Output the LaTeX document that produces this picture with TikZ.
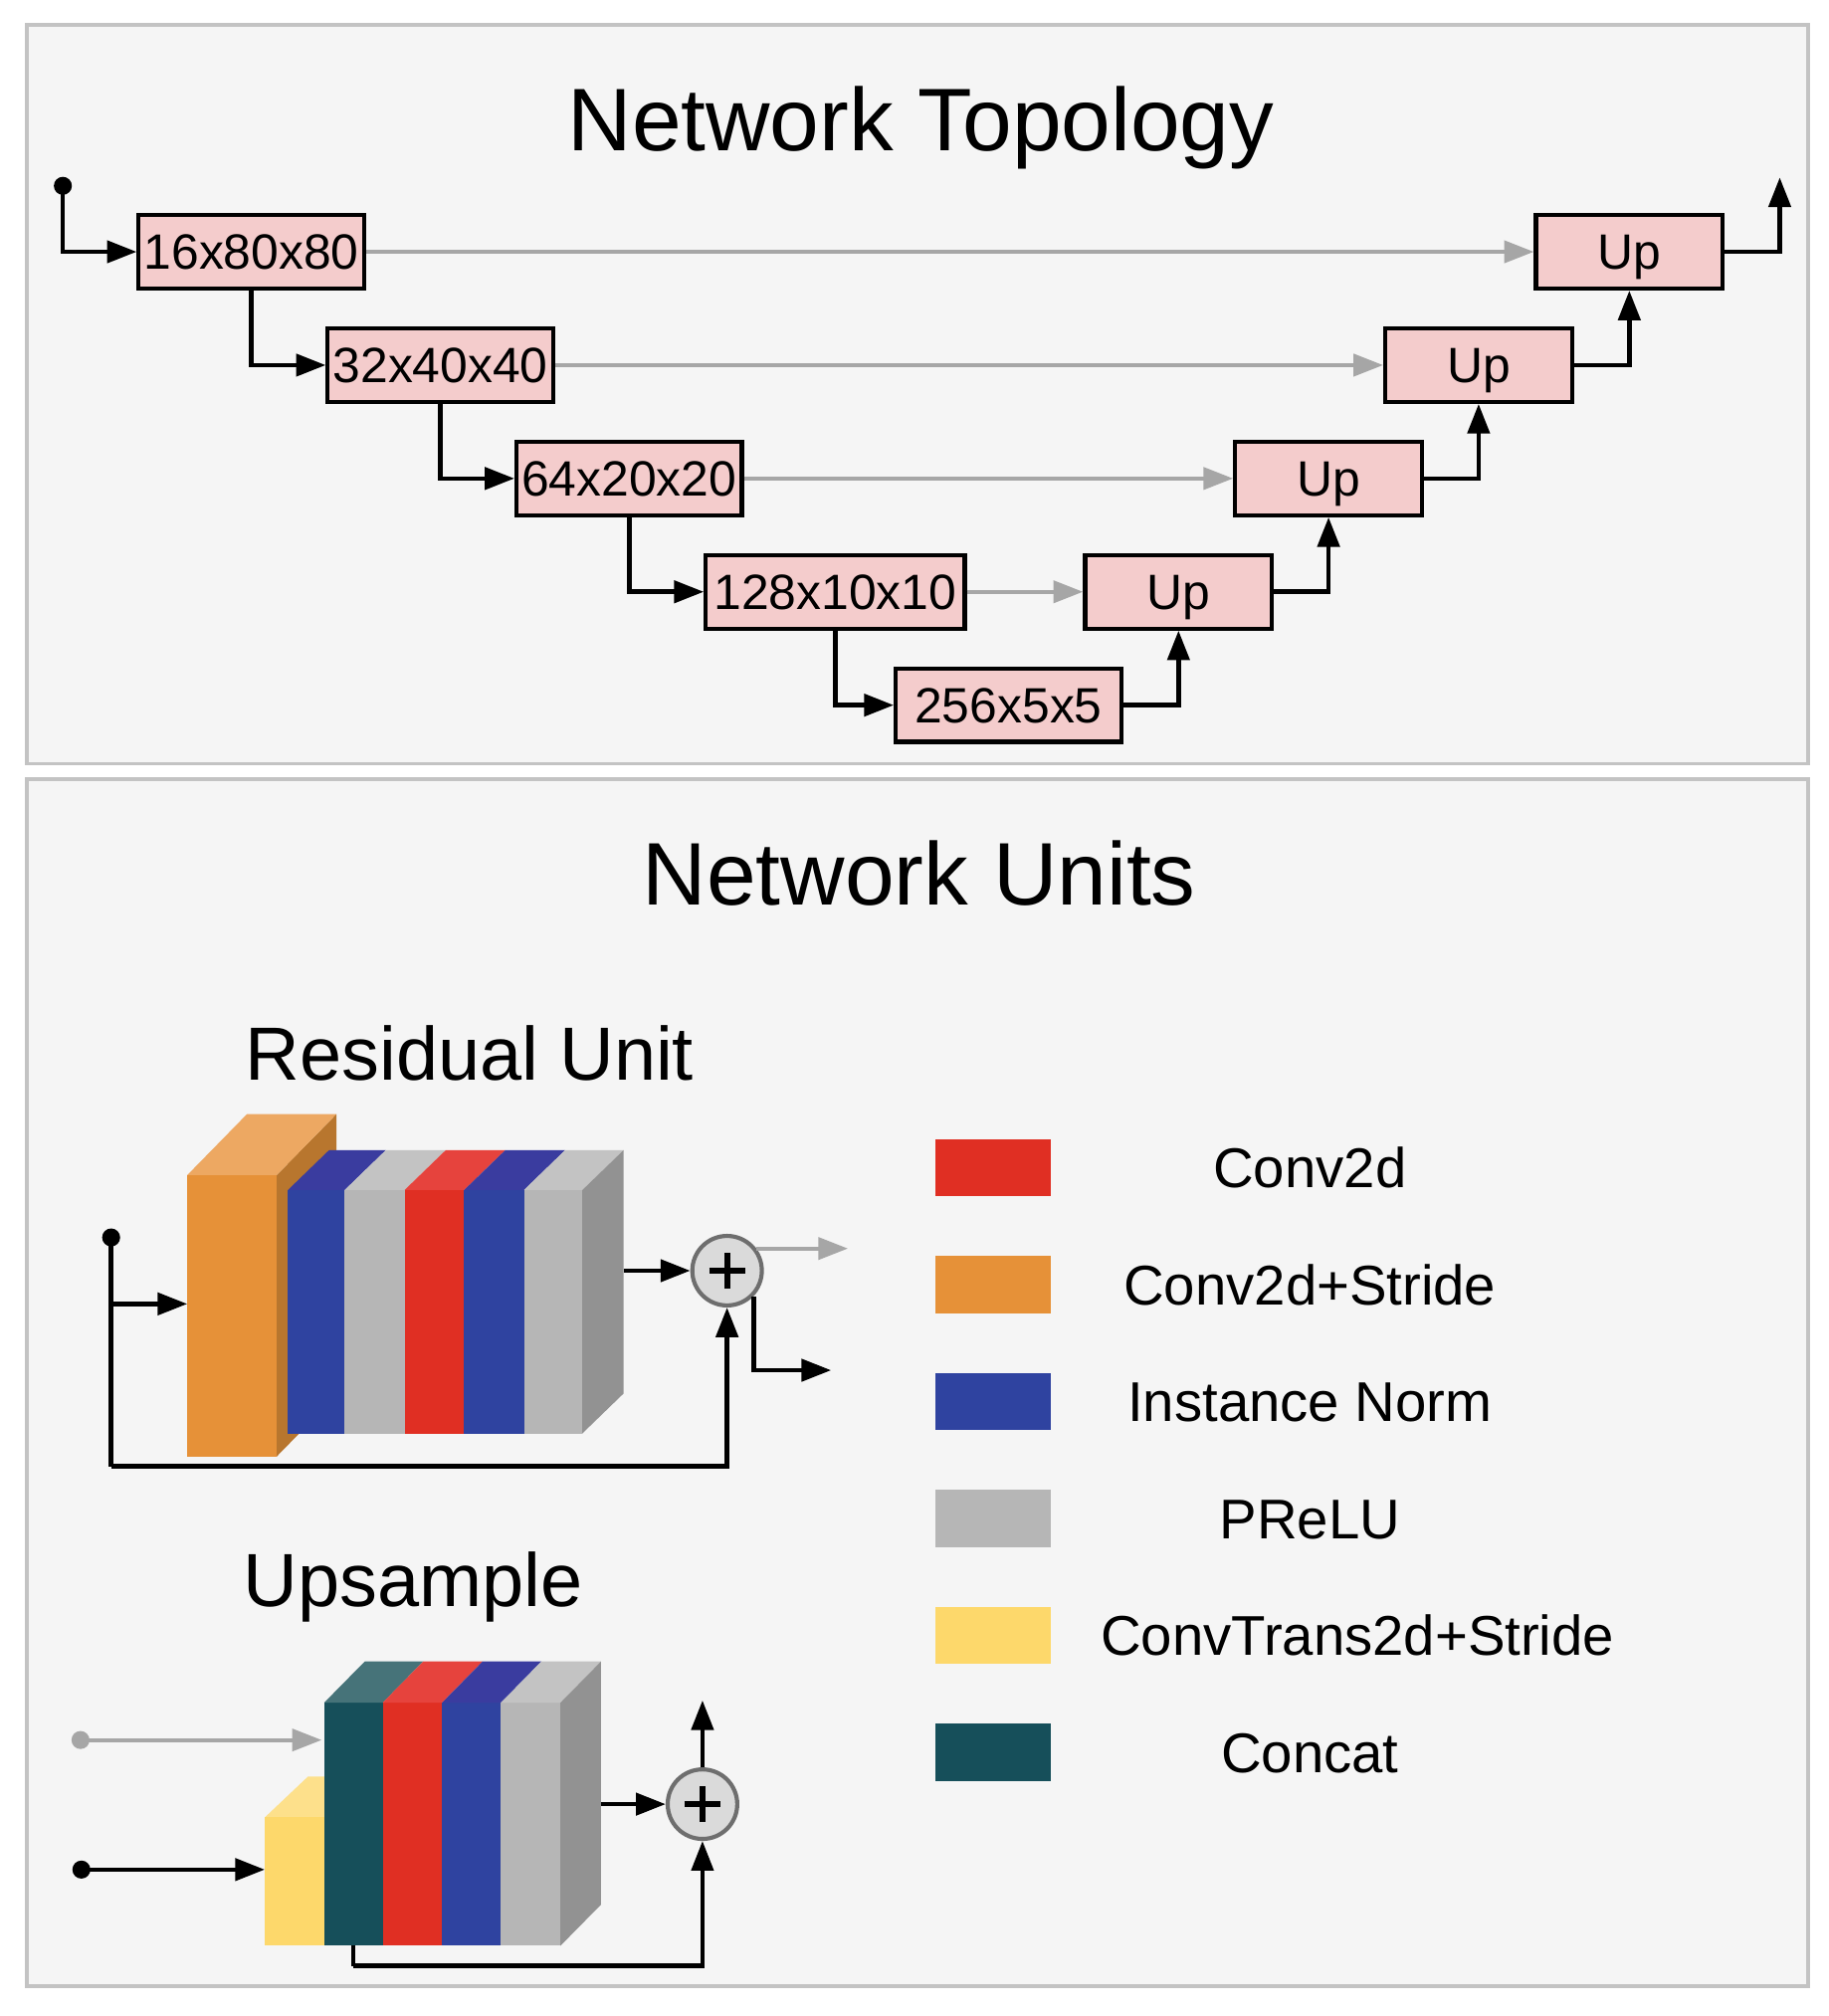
\documentclass[tikz,border=0pt]{standalone}
\usepackage{fontspec}
\setmainfont{Liberation Sans}
\usetikzlibrary{arrows.meta}
\newcommand\myfs[1]{\fontsize{#1pt}{#1pt}\selectfont}
\definecolor{framegray}{HTML}{C3C3C3}
\definecolor{framefill}{HTML}{F5F5F5}
\definecolor{boxpink}{HTML}{F4CCCC}
\definecolor{linkgray}{HTML}{A6A6A6}
\definecolor{sumfill}{HTML}{DADADA}
\definecolor{sumborder}{HTML}{6E6E6E}
\definecolor{orangeF}{HTML}{E69138}
\definecolor{orangeT}{HTML}{EDA862}
\definecolor{orangeS}{HTML}{B8762E}
\definecolor{blueF}{HTML}{2F43A0}
\definecolor{blueT}{HTML}{3A3C9F}
\definecolor{grayF}{HTML}{B6B6B6}
\definecolor{grayT}{HTML}{C3C3C3}
\definecolor{redF}{HTML}{E02F23}
\definecolor{redT}{HTML}{E6433D}
\definecolor{sideF}{HTML}{929292}
\definecolor{tealF}{HTML}{164F5A}
\definecolor{tealT}{HTML}{467379}
\definecolor{yellowF}{HTML}{FDD86B}
\definecolor{yellowT}{HTML}{FDE08B}
\begin{document}
\begin{tikzpicture}[x=1pt,y=-1pt,
  arr/.style={line width=3.5pt,-{Triangle[length=23pt,width=17pt]}},
  garr/.style={line width=3.2pt,draw=linkgray,-{Triangle[length=23pt,width=17pt]}},
  box/.style={draw,line width=3.2pt,fill=boxpink,inner sep=0pt,minimum height=57pt,
    text height=27.2pt,text depth=0pt,font={\myfs{38.5}}},
  frame/.style={draw=framegray,fill=framefill,line width=3pt},
  sumc/.style={circle,draw=sumborder,fill=sumfill,line width=3.2pt,minimum size=54pt,inner sep=0pt},
  swatch/.style={inner sep=0pt,minimum width=89.9pt,minimum height=44.5pt},
  legtext/.style={anchor=base,inner sep=0pt,font={\myfs{43.5}}},
  title/.style={anchor=base,inner sep=0pt,font={\myfs{69}}},
  subtitle/.style={anchor=base west,inner sep=0pt,font={\myfs{58.5}}}
]
\useasboundingbox (0,0) rectangle (1420,1565.3);
\fill[white] (0,0) rectangle (1420,1565.3);
% frames
\draw[frame] (21,19) rectangle (1404,593);
\draw[frame] (21,605) rectangle (1404,1542);

% ---------------- Network Topology ----------------
\node[title] (t1) at (715,117) {Network Topology};
\node[box,minimum width=175pt] (b1) at (195.2,195.5) {16x80x80};
\node[box,minimum width=175pt] (b2) at (342,283.5) {32x40x40};
\node[box,minimum width=175pt] (b3) at (488.5,371.5) {64x20x20};
\node[box,minimum width=201pt] (b4) at (648.5,459.5) {128x10x10};
\node[box,minimum width=175pt] (b5) at (783,547.5) {256x5x5};
\node[box,minimum width=145pt] (u1) at (915,459.5) {Up};
\node[box,minimum width=145pt] (u2) at (1031.5,371.5) {Up};
\node[box,minimum width=145pt] (u3) at (1148,283.5) {Up};
\node[box,minimum width=145pt] (u4) at (1265,195.5) {Up};
\coordinate (in) at (48.8,144.3);
\coordinate (out) at (1381.8,137.8);
\fill (in) circle[radius=7pt];
\draw[arr] (in) |- (b1.west);
\draw[arr] (b1.south) |- (b2.west);
\draw[arr] (b2.south) |- (b3.west);
\draw[arr] (b3.south) |- (b4.west);
\draw[arr] (b4.south) |- (b5.west);
\draw[arr] (b5.east) -| (u1.south);
\draw[arr] (u1.east) -| (u2.south);
\draw[arr] (u2.east) -| (u3.south);
\draw[arr] (u3.east) -| (u4.south);
\draw[arr] (u4.east) -| (out);
\draw[garr] (b1.east) -- (u4.west);
\draw[garr] (b2.east) -- (u3.west);
\draw[garr] (b3.east) -- (u2.west);
\draw[garr] (b4.east) -- (u1.west);

% ---------------- Network Units ----------------
\node[title] (t2) at (713.7,703) {Network Units};
\node[subtitle] (t3) at (190.5,838.5) {Residual Unit};
\node[subtitle] (t4) at (189,1247.3) {Upsample};

% Residual unit: orange block
\fill[orangeS] (214.8,912.4) -- (261.2,865) -- (261.2,1083.5) -- (214.8,1130.9) -- cycle;
\fill[orangeT] (145.4,912.4) -- (214.8,912.4) -- (261.2,865) -- (191.8,865) -- cycle;
\fill[orangeF] (145.4,912.4) rectangle (214.8,1130.9);
% residual stack
\fill[blueF] (223.5,924) rectangle (267.6,1113);
\fill[grayF] (267.6,924) rectangle (314.1,1113);
\fill[redF]  (314.1,924) rectangle (360.3,1113);
\fill[blueF] (360.3,924) rectangle (406.8,1113);
\fill[grayF] (406.8,924) rectangle (452.1,1113);
\fill[blueT] (223.5,924) -- (267.6,924) -- (299.6,893) -- (255.5,893) -- cycle;
\fill[grayT] (267.6,924) -- (314.1,924) -- (346.1,893) -- (299.6,893) -- cycle;
\fill[redT]  (314.1,924) -- (360.3,924) -- (392.3,893) -- (346.1,893) -- cycle;
\fill[blueT] (360.3,924) -- (406.8,924) -- (438.8,893) -- (392.3,893) -- cycle;
\fill[grayT] (406.8,924) -- (452.1,924) -- (484.1,893) -- (438.8,893) -- cycle;
\fill[sideF] (452.1,924) -- (484.1,893) -- (484.1,1082) -- (452.1,1113) -- cycle;

\node[sumc] (s1) at (564.5,986.6) {};
\draw[line width=4.5pt] ([xshift=-14pt]s1.center) -- ([xshift=14pt]s1.center);
\draw[line width=4.5pt] ([yshift=-14pt]s1.center) -- ([yshift=14pt]s1.center);
\coordinate (d1) at (86.3,960.8);
\coordinate (d1b) at (86.3,1012.4);
\coordinate (oin) at (145.4,1012.4);
\coordinate (r1out) at (484.1,986.6);
\coordinate (r1b) at (86.3,1138.6);
\coordinate (r1end) at (645.3,1063.9);
\fill (d1) circle[radius=7pt];
\draw[line width=3.5pt] (d1) -- (r1b);
\draw[arr] (r1b) -| (s1.south);
\draw[arr] (d1b) -- (oin);
\draw[arr] (r1out) -- (s1.west);
\draw[garr] (s1.37) -- ++(71,0);
\draw[arr] (s1.-44) |- (r1end);

% Upsample: yellow block
\fill[yellowT] (205.6,1411.1) -- (251.7,1411.1) -- (285.2,1379.4) -- (239.1,1379.4) -- cycle;
\fill[yellowF] (205.6,1411.1) rectangle (251.7,1510.8);
% upsample stack
\fill[tealF] (251.7,1322) rectangle (297.1,1510.8);
\fill[redF]  (297.1,1322) rectangle (343.2,1510.8);
\fill[blueF] (343.2,1322) rectangle (388.9,1510.8);
\fill[grayF] (388.9,1322) rectangle (435.1,1510.8);
\fill[tealT] (251.7,1322) -- (297.1,1322) -- (328.6,1290) -- (283.2,1290) -- cycle;
\fill[redT]  (297.1,1322) -- (343.2,1322) -- (374.7,1290) -- (328.6,1290) -- cycle;
\fill[blueT] (343.2,1322) -- (388.9,1322) -- (420.4,1290) -- (374.7,1290) -- cycle;
\fill[grayT] (388.9,1322) -- (435.1,1322) -- (466.6,1290) -- (420.4,1290) -- cycle;
\fill[sideF] (435.1,1322) -- (466.6,1290) -- (466.6,1478.8) -- (435.1,1510.8) -- cycle;

\node[sumc] (s2) at (545.4,1400.8) {};
\draw[line width=4.5pt] ([xshift=-14pt]s2.center) -- ([xshift=14pt]s2.center);
\draw[line width=4.5pt] ([yshift=-14pt]s2.center) -- ([yshift=14pt]s2.center);
\coordinate (gd) at (62.5,1351);
\coordinate (gend) at (249.8,1351);
\coordinate (bd) at (63.2,1451.6);
\coordinate (yin) at (205.6,1451.6);
\coordinate (u2out) at (466.6,1400.8);
\coordinate (uptop) at (545.4,1320.2);
\coordinate (fb0) at (274.6,1510.8);
\coordinate (fb1) at (274.6,1526.3);
\fill[linkgray] (gd) circle[radius=7pt];
\draw[garr] (gd) -- (gend);
\fill (bd) circle[radius=7pt];
\draw[arr] (bd) -- (yin);
\draw[arr] (u2out) -- (s2.west);
\draw[arr] (s2.north) -- (uptop);
\draw[line width=3.2pt] (fb0) -- (fb1);
\draw[line width=3.2pt,-{Triangle[length=23pt,width=17pt]}] (fb1) -| (s2.south);

% legend
\node[swatch,fill=redF]    (l1) at (770.85,906.6) {};
\node[swatch,fill=orangeF] (l2) at (770.85,997.4) {};
\node[swatch,fill=blueF]   (l3) at (770.85,1088.1) {};
\node[swatch,fill=grayF]   (l4) at (770.85,1178.9) {};
\node[swatch,fill=yellowF] (l5) at (770.85,1269.7) {};
\node[swatch,fill=tealF]   (l6) at (770.85,1360.7) {};
\node[legtext] (lt1) at (1017,922.2) {Conv2d};
\node[legtext] (lt2) at (1017,1013) {Conv2d+Stride};
\node[legtext] (lt3) at (1017,1103.7) {Instance Norm};
\node[legtext] (lt4) at (1017,1194.5) {PReLU};
\node[legtext] (lt5) at (1054,1285.3) {ConvTrans2d+Stride};
\node[legtext] (lt6) at (1017,1376.3) {Concat};
\end{tikzpicture}
\end{document}
